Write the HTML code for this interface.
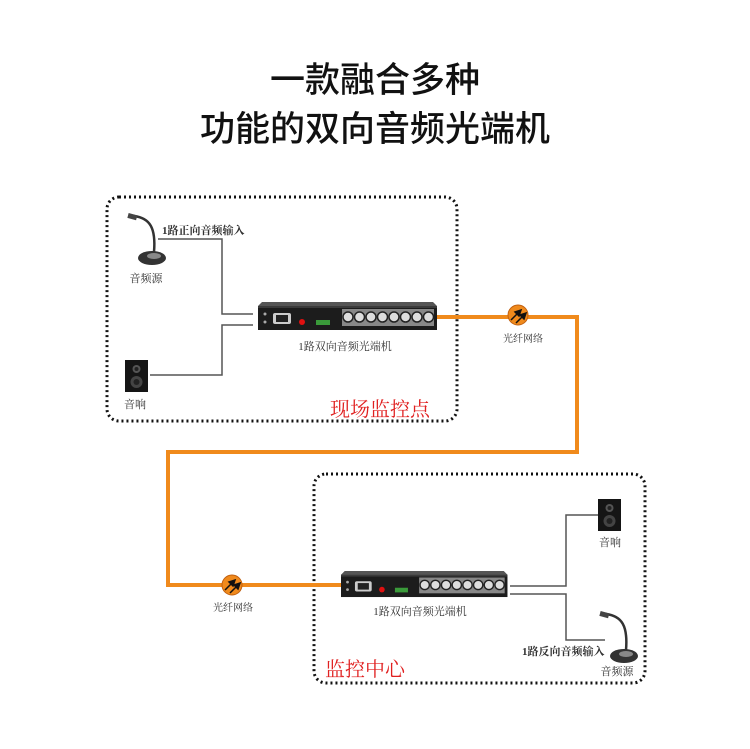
<!DOCTYPE html>
<html><head><meta charset="utf-8"><style>
html,body{margin:0;padding:0;background:#fff;}
svg{display:block;}
text{font-family:"Liberation Serif","Noto Serif CJK SC",serif;}
.t{font-family:"Liberation Sans","Noto Sans CJK SC",sans-serif;font-weight:500;}
</style></head><body>
<svg width="750" height="749" viewBox="0 0 750 749" xmlns="http://www.w3.org/2000/svg">
<defs>
<g id="dev">
  <polygon points="4,0 175,0 179,4 0,4" fill="#555"/>
  <rect x="0" y="4" width="179" height="24" fill="#1c1c1c"/>
  <rect x="0" y="4" width="179" height="2" fill="#3a3a3a"/>
  <rect x="15" y="11" width="18" height="11" fill="#ccc" rx="2"/>
  <rect x="18" y="13" width="12" height="7" fill="#222"/>
  <circle cx="7" cy="12" r="1.5" fill="#aaa"/><circle cx="7" cy="20" r="1.5" fill="#aaa"/>
  <circle cx="44" cy="20" r="3" fill="#e01010"/>
  <rect x="58" y="18" width="14" height="5" fill="#3a9a3a"/>
  <rect x="84" y="7" width="92" height="17" fill="#888"/>
  <g fill="#ddd" stroke="#222" stroke-width="1.5">
    <circle cx="90" cy="15" r="5"/><circle cx="101.5" cy="15" r="5"/><circle cx="113" cy="15" r="5"/><circle cx="124.5" cy="15" r="5"/>
    <circle cx="136" cy="15" r="5"/><circle cx="147.5" cy="15" r="5"/><circle cx="159" cy="15" r="5"/><circle cx="170.5" cy="15" r="5"/>
  </g>
</g>
<g id="mic">
  <path d="M6,2 C22,4 28,14 26,38" stroke="#333" stroke-width="2.5" fill="none"/>
  <rect x="0" y="0" width="9" height="5" fill="#444" transform="rotate(15 4 2)"/>
  <ellipse cx="24" cy="44" rx="14" ry="7" fill="#333"/>
  <ellipse cx="26" cy="42" rx="7" ry="3" fill="#888"/>
</g>
<g id="spk">
  <rect x="0" y="0" width="23" height="32" fill="#151515"/>
  <circle cx="11.5" cy="9" r="4" fill="#555"/><circle cx="11.5" cy="9" r="2" fill="#222"/>
  <circle cx="11.5" cy="22" r="6" fill="#444"/><circle cx="11.5" cy="22" r="3" fill="#222"/>
</g>
<g id="fib">
  <circle cx="0" cy="0" r="10" fill="#f08a1c" stroke="#c06010"/>
  <path d="M-7,5 L-1,-1 L-3,-3 L3,-5 L1,1 L-1,-1" fill="#111" stroke="#111" stroke-width="1.5"/>
  <path d="M-2,8 L4,2 L2,0 L8,-2 L6,4 L4,2" fill="#111" stroke="#111" stroke-width="1.5"/>
</g>
</defs>

<text class="t" x="375" y="92" font-size="35" text-anchor="middle" fill="#111">一款融合多种</text>
<text class="t" x="375" y="141" font-size="35" text-anchor="middle" fill="#111">功能的双向音频光端机</text>

<rect x="107" y="197" width="350" height="224" rx="12" fill="none" stroke="#111" stroke-width="3" stroke-dasharray="2,3"/>
<rect x="314" y="474" width="331" height="209" rx="12" fill="none" stroke="#111" stroke-width="3" stroke-dasharray="2,3"/>

<polyline points="437,317 577,317 577,452 168,452 168,585 341,585" fill="none" stroke="#f08a1c" stroke-width="4"/>
<use href="#fib" x="518" y="315"/>
<use href="#fib" x="232" y="585"/>
<text x="523" y="342" font-size="10" text-anchor="middle" fill="#333">光纤网络</text>
<text x="233" y="611" font-size="10" text-anchor="middle" fill="#333">光纤网络</text>

<use href="#dev" x="258" y="302"/>
<use href="#dev" transform="translate(341 571) scale(0.93 0.93)"/>
<text x="345" y="350" font-size="11" text-anchor="middle" fill="#333">1路双向音频光端机</text>
<text x="420" y="615" font-size="11" text-anchor="middle" fill="#333">1路双向音频光端机</text>

<g fill="none" stroke="#555" stroke-width="1.5">
<polyline points="158,239 222,239 222,314 253,314"/>
<polyline points="253,325 222,325 222,375 150,375"/>
<polyline points="510,586 566,586 566,515 598,515"/>
<polyline points="510,594 566,594 566,640 605,640"/>
</g>
<use href="#mic" x="128" y="214"/>
<use href="#spk" x="125" y="360"/>
<use href="#spk" x="598" y="499"/>
<use href="#mic" x="600" y="612"/>

<text x="162" y="234" font-size="11" fill="#333" font-weight="bold">1路正向音频输入</text>
<text x="146" y="282" font-size="11" text-anchor="middle" fill="#333">音频源</text>
<text x="135" y="408" font-size="11" text-anchor="middle" fill="#333">音响</text>
<text x="610" y="546" font-size="11" text-anchor="middle" fill="#333">音响</text>
<text x="522" y="655" font-size="11" fill="#333" font-weight="bold">1路反向音频输入</text>
<text x="617" y="675" font-size="11" text-anchor="middle" fill="#333">音频源</text>

<text x="330" y="416" font-size="20" fill="#e02020" style="font-family:'Noto Serif CJK SC',serif">现场监控点</text>
<text x="325" y="676" font-size="20" fill="#e02020" style="font-family:'Noto Serif CJK SC',serif">监控中心</text>
</svg>
</body></html>
